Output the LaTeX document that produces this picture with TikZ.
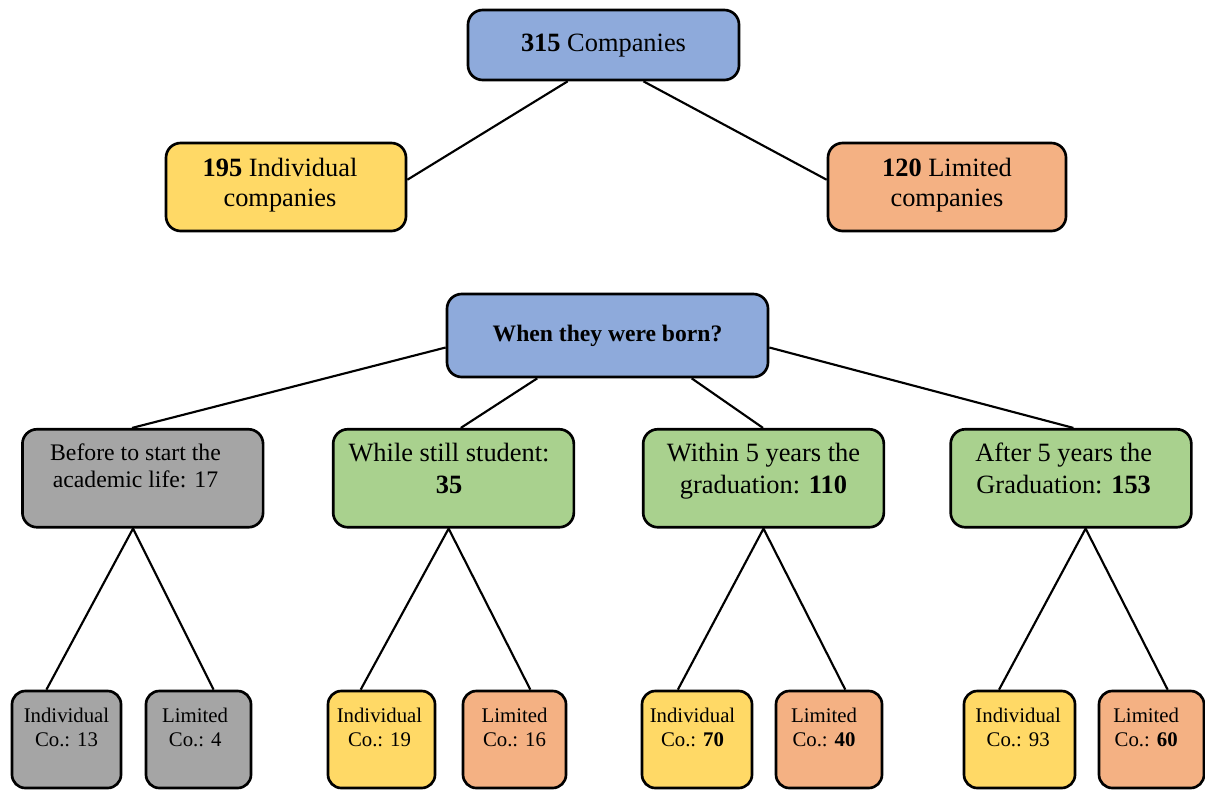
\documentclass[tikz,border=0pt]{standalone}
\usepackage{fontspec}
\setmainfont{Liberation Serif}
\usetikzlibrary{calc}

\definecolor{boxblue}{HTML}{8EAADB}
\definecolor{boxyellow}{HTML}{FFD966}
\definecolor{boxorange}{HTML}{F4B183}
\definecolor{boxgreen}{HTML}{A9D18E}
\definecolor{boxgray}{HTML}{A5A5A5}

% #1 raise of the lines, #2 extra space on the right (moves text left), #3 lines
\newcommand\boxlines[3]{\raisebox{#1}[\height][\depth]{\begin{tabular}{@{}c@{}}#3\end{tabular}}\kern#2\relax}

\newcommand\fntTop{\fontsize{19.8}{22.5}\selectfont}
\newcommand\fntRowA{\fontsize{17.8}{20.25}\selectfont}
\newcommand\fntRowB{\fontsize{19.8}{24}\selectfont}
\newcommand\fntAsk{\fontsize{17.7}{21}\selectfont\bfseries}
\newcommand\fntLeaf{\fontsize{15.6}{18}\selectfont}

\begin{document}
\begin{tikzpicture}[x=0.75pt, y=-0.75pt,
  box/.style={draw=black, line width=2pt, rounded corners=11pt, inner sep=0pt, anchor=center},
  leaf/.style={box, rounded corners=10pt, minimum height=72.75pt, font=\fntLeaf},
  rowbox/.style={box, minimum width=180.5pt, minimum height=73.5pt},
  link/.style={draw=black, line width=1.6pt}]
\useasboundingbox (0,0) rectangle (1205,789);

% first level
\node[box, fill=boxblue, minimum width=203.25pt, minimum height=52.5pt, font=\fntTop]
  (top) at (603.5,45) {\boxlines{0pt}{0pt}{\textbf{315} Companies}};
\node[box, fill=boxyellow, minimum width=180pt, minimum height=66pt, font=\fntTop]
  (ind) at (286,187) {\boxlines{1.5pt}{9pt}{\textbf{195} Individual\\companies}};
\node[box, fill=boxorange, minimum width=178.5pt, minimum height=66pt, font=\fntTop]
  (lim) at (947,187) {\boxlines{1.5pt}{0pt}{\textbf{120} Limited\\companies}};

% question
\node[box, fill=boxblue, minimum width=240.75pt, minimum height=62.25pt, font=\fntAsk]
  (ask) at (607.5,335.5) {When they were born?};

% periods
\node[rowbox, fill=boxgray, font=\fntRowA] (r1) at (142.75,478.25)
  {\boxlines{6.9pt}{10.9pt}{Before to start the\\academic life: 17}};
\node[rowbox, fill=boxgreen, font=\fntRowB] (r2) at (453.5,478.25)
  {\boxlines{5pt}{6.75pt}{While still student:\\\textbf{35}}};
\node[rowbox, fill=boxgreen, font=\fntRowB] (r3) at (763.5,478.25)
  {\boxlines{5pt}{0pt}{Within 5 years the\\graduation: \textbf{110}}};
\node[rowbox, fill=boxgreen, font=\fntRowB] (r4) at (1071,478.25)
  {\boxlines{5pt}{11pt}{After 5 years the\\Graduation: \textbf{153}}};

% company types per period
\node[leaf, fill=boxgray, minimum width=81.75pt] (c1i) at (66.5,739.5)
  {\boxlines{7pt}{0pt}{Individual\\Co.: 13}};
\node[leaf, fill=boxgray, minimum width=78.75pt] (c1l) at (198.5,739.5)
  {\boxlines{7pt}{5pt}{Limited\\Co.: 4}};
\node[leaf, fill=boxyellow, minimum width=80.25pt] (c2i) at (381.5,739.5)
  {\boxlines{7pt}{3pt}{Individual\\Co.: 19}};
\node[leaf, fill=boxorange, minimum width=77.25pt] (c2l) at (514.5,739.5)
  {\boxlines{7pt}{0pt}{Limited\\Co.: 16}};
\node[leaf, fill=boxyellow, minimum width=82.5pt] (c3i) at (697,739.5)
  {\boxlines{7pt}{6.75pt}{Individual\\Co.: \textbf{70}}};
\node[leaf, fill=boxorange, minimum width=79.5pt] (c3l) at (829,739.5)
  {\boxlines{7pt}{7.5pt}{Limited\\Co.: \textbf{40}}};
\node[leaf, fill=boxyellow, minimum width=83.25pt] (c4i) at (1019.5,739.5)
  {\boxlines{7pt}{2pt}{Individual\\Co.: 93}};
\node[leaf, fill=boxorange, minimum width=78.75pt] (c4l) at (1151.5,739.5)
  {\boxlines{7pt}{8pt}{Limited\\Co.: \textbf{60}}};

% connectors
\draw[link] ($(top.south west)!0.369!(top.south east)$) -- ($(ind.north east)!0.42!(ind.south east)$);
\draw[link] ($(top.south west)!0.646!(top.south east)$) -- ($(lim.north west)!0.42!(lim.south west)$);

\draw[link] ($(ask.north west)!0.64!(ask.south west)$) -- ($(r1.north west)!0.456!(r1.north east)$);
\draw[link] ($(ask.south west)!0.283!(ask.south east)$) -- ($(r2.north west)!0.53!(r2.north east)$);
\draw[link] ($(ask.south west)!0.76!(ask.south east)$) -- ($(r3.north west)!0.498!(r3.north east)$);
\draw[link] ($(ask.north east)!0.64!(ask.south east)$) -- ($(r4.north west)!0.51!(r4.north east)$);

\draw[link] ($(c1i.north west)!0.32!(c1i.north east)$) -- ($(r1.south west)!0.46!(r1.south east)$)
  -- ($(c1l.north west)!0.64!(c1l.north east)$);
\draw[link] ($(c2i.north west)!0.31!(c2i.north east)$) -- ($(r2.south west)!0.48!(r2.south east)$)
  -- ($(c2l.north west)!0.65!(c2l.north east)$);
\draw[link] ($(c3i.north west)!0.33!(c3i.north east)$) -- ($(r3.south west)!0.50!(r3.south east)$)
  -- ($(c3l.north west)!0.65!(c3l.north east)$);
\draw[link] ($(c4i.north west)!0.32!(c4i.north east)$) -- ($(r4.south west)!0.56!(r4.south east)$)
  -- ($(c4l.north west)!0.65!(c4l.north east)$);
\end{tikzpicture}
\end{document}
